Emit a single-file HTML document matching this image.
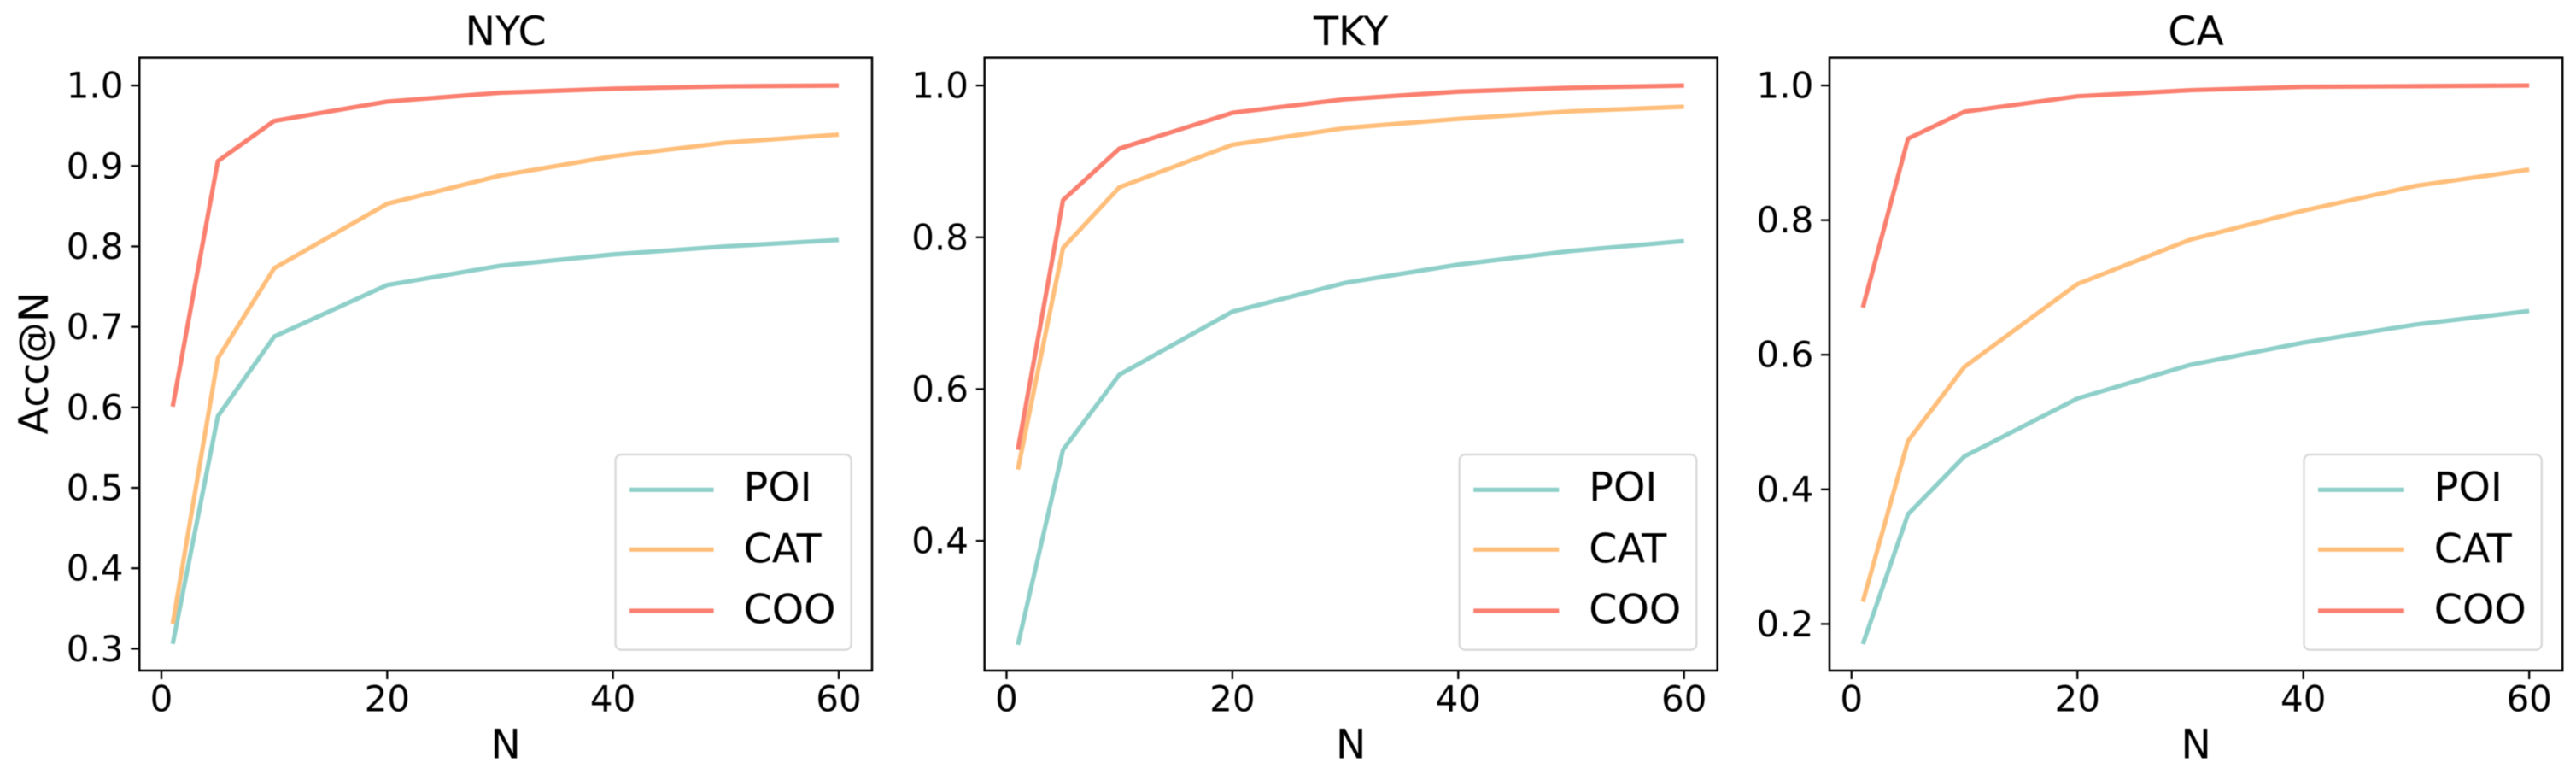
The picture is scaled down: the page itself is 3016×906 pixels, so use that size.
<!DOCTYPE html>
<html lang="en">
<head>
<meta charset="utf-8">
<title>Acc@N by dataset</title>
<style>
html,body{margin:0;padding:0;background:#fff;width:3016px;height:906px;overflow:hidden}
svg{display:block;font-family:"DejaVu Sans","Liberation Sans",sans-serif;filter:blur(0.5px)}
</style>
</head>
<body>
<svg id="chart" xmlns="http://www.w3.org/2000/svg" width="3016" height="906" viewBox="0 0 3016 906"></svg>
<script>
// Data
const nValues = [1, 5, 10, 20, 30, 40, 50, 60];
const seriesNames = ['POI', 'CAT', 'COO'];
const xTickLabels = [0, 20, 40, 60];
const xLimits = [-1.95, 62.95];

const nycPoi = [0.306, 0.589, 0.688, 0.752, 0.776, 0.790, 0.800, 0.808];
const nycCat = [0.331, 0.661, 0.773, 0.853, 0.888, 0.912, 0.929, 0.939];
const nycCoo = [0.601, 0.906, 0.956, 0.980, 0.991, 0.996, 0.999, 1.000];
const nycYTicks = ['0.3', '0.4', '0.5', '0.6', '0.7', '0.8', '0.9', '1.0'];
const nycYLimits = [0.2728, 1.0345];

const tkyPoi = [0.263, 0.520, 0.619, 0.702, 0.740, 0.764, 0.782, 0.795];
const tkyCat = [0.494, 0.786, 0.866, 0.922, 0.944, 0.956, 0.966, 0.972];
const tkyCoo = [0.520, 0.849, 0.917, 0.964, 0.982, 0.992, 0.997, 1.000];
const tkyYTicks = ['0.4', '0.6', '0.8', '1.0'];
const tkyYLimits = [0.229, 1.0366];

const caPoi = [0.170, 0.363, 0.449, 0.535, 0.585, 0.618, 0.645, 0.665];
const caCat = [0.233, 0.472, 0.582, 0.705, 0.771, 0.814, 0.851, 0.875];
const caCoo = [0.670, 0.921, 0.961, 0.984, 0.993, 0.998, 0.999, 1.000];
const caYTicks = ['0.2', '0.4', '0.6', '0.8', '1.0'];
const caYLimits = [0.1307, 1.0412];

// Panels
const panels = [
  { key: 'nyc', title: 'NYC', yLabel: 'Acc@N', series: [nycPoi, nycCat, nycCoo], yTicks: nycYTicks, yLimits: nycYLimits, left: 163.2, right: 1021, legendWidth: 276 },
  { key: 'tky', title: 'TKY', yLabel: '', series: [tkyPoi, tkyCat, tkyCoo], yTicks: tkyYTicks, yLimits: tkyYLimits, left: 1152.7, right: 2010.7, legendWidth: 277.6 },
  { key: 'ca', title: 'CA', yLabel: '', series: [caPoi, caCat, caCoo], yTicks: caYTicks, yLimits: caYLimits, left: 2142, right: 3000.2, legendWidth: 278.3 }
];

// Style
const seriesColors = ['#8ECFC9', '#FFBE7A', '#FA7F6F'];
const axesTop = 67.6;
const axesBottom = 785;
const lineWidth = 5.2;
const tickFont = 42;
const labelFont = 47.5;
const NS = 'http://www.w3.org/2000/svg';
const root = document.getElementById('chart');

function make(tag, parent, attrs) {
  const el = document.createElementNS(NS, tag);
  for (const k in attrs) el.setAttribute(k, attrs[k]);
  parent.appendChild(el);
  return el;
}

function label(parent, x, y, size, anchor, content) {
  const t = make('text', parent, { x: x, y: y, 'font-size': size, 'text-anchor': anchor, fill: '#000' });
  t.textContent = content;
  return t;
}

panels.forEach(function (p) {
  const xScale = function (v) {
    return p.left + (v - xLimits[0]) / (xLimits[1] - xLimits[0]) * (p.right - p.left);
  };
  const yScale = function (v) {
    return axesBottom - (v - p.yLimits[0]) / (p.yLimits[1] - p.yLimits[0]) * (axesBottom - axesTop);
  };
  const cx = (p.left + p.right) / 2;

  const group = make('g', root, {});
  
  

  const title = label(group, cx, 53, labelFont, 'middle', p.title);
  
  

  // Ticks and tick labels
  xTickLabels.forEach(function (v) {
    const tick = make('line', group, { x1: xScale(v), x2: xScale(v), y1: axesBottom, y2: axesBottom + 10, stroke: '#000', 'stroke-width': 2.3 });
    
    
    const text = label(group, xScale(v), 832.5, tickFont, 'middle', String(v));
    
    
  });
  p.yTicks.forEach(function (v) {
    const y = yScale(parseFloat(v));
    const tick = make('line', group, { x1: p.left - 10, x2: p.left, y1: y, y2: y, stroke: '#000', 'stroke-width': 2.3 });
    
    
    const text = label(group, p.left - 18.7, y + 14.5, tickFont, 'end', v);
    
    
  });

  // Axis titles
  const xTitle = label(group, cx, 887.5, labelFont, 'middle', 'N');
  
  
  if (p.yLabel) {
    const yTitle = label(group, 0, 0, labelFont, 'middle', p.yLabel);
    yTitle.setAttribute('transform', 'translate(56 425) rotate(-90)');
    
    
  }

  // Series lines
  p.series.forEach(function (values, i) {
    const pts = values.map(function (v, j) {
      return xScale(nValues[j]).toFixed(2) + ',' + yScale(v).toFixed(2);
    }).join(' ');
    const line = make('polyline', group, { points: pts, fill: 'none', stroke: seriesColors[i], 'stroke-width': lineWidth, 'stroke-linejoin': 'round', 'stroke-linecap': 'butt' });
    
    
  });

  // Axes frame
  const frame = make('rect', group, { x: p.left, y: axesTop, width: p.right - p.left, height: axesBottom - axesTop, fill: 'none', stroke: '#000', 'stroke-width': 2.5 });
  
  

  // Legend
  const legend = make('g', group, {});
  
  
  const boxRight = p.right - 24.4;
  const boxX = boxRight - p.legendWidth;
  const box = make('rect', legend, { x: boxX, y: 532, width: p.legendWidth, height: 228.7, rx: 7, ry: 7, fill: '#fff', 'fill-opacity': 0.8, stroke: '#d9d9d9', 'stroke-width': 2.4 });
  
  
  const handleY = [573.3, 643.3, 715];
  const textY = [586.7, 658.3, 729.6];
  seriesNames.forEach(function (name, i) {
    const handle = make('line', legend, { x1: boxX + 16.5, x2: boxRight - 161, y1: handleY[i], y2: handleY[i], stroke: seriesColors[i], 'stroke-width': lineWidth });
    
    
    const text = label(legend, boxRight - 126, textY[i], labelFont, 'start', name);
    
    
  });
});
</script>
</body>
</html>
